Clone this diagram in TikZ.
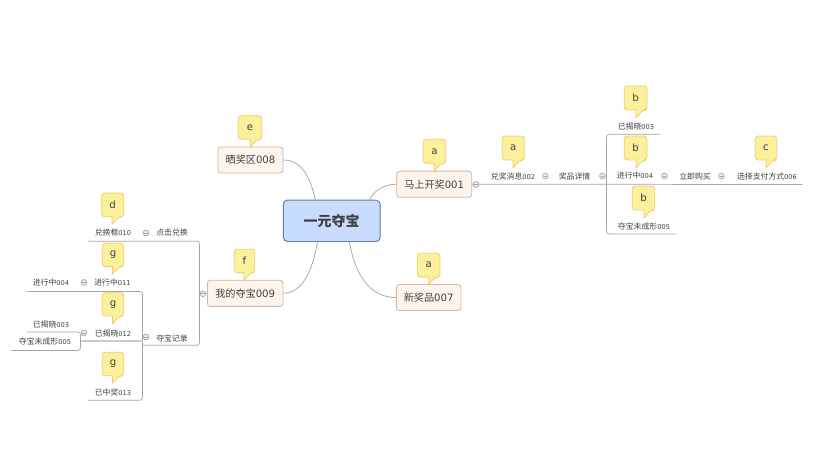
\documentclass[tikz,border=0pt]{standalone}
\usepackage{fontspec}
\setmainfont{DejaVu Sans}
\newfontfamily\cjk{Noto Sans CJK SC}
\definecolor{txt}{HTML}{404040}
\definecolor{ln}{HTML}{A6A6A6}
\definecolor{topicfill}{HTML}{FFF4EC}
\definecolor{topicline}{HTML}{C6BBAE}
\definecolor{rootfill}{HTML}{C9DCFF}
\definecolor{rootline}{HTML}{5F7BA8}
\definecolor{notefill}{HTML}{FBF09C}
\definecolor{noteline}{HTML}{F4CB6C}
\pgfdeclarelayer{bg}
\pgfsetlayers{bg,main}
\newcommand\cn[1]{{\cjk #1}}
\newcommand\lab[2]{\cn{#1}{\fontsize{5pt}{6pt}\selectfont #2}}
\newcommand\notebox[8]{%
  \fill[notefill,draw=noteline,line width=0.6pt,line join=round]
    [rounded corners=2.2pt] (#6,#5) -- (#2,#5) -- (#2,#3) -- (#4,#3) -- (#4,#5) -- (#6+7,#5)
    [sharp corners] -- (#6,#7) -- cycle;
  \node[notetxt] (#1) at ({(#2+#4)/2},{(#3+#5)/2}) {#8};}
\tikzset{
  x=0.75pt,y=-0.75pt,
  small/.style={inner sep=0pt,text=txt,font=\fontsize{5.9pt}{7pt}\selectfont},
  notetxt/.style={inner sep=0pt,text=txt,font=\fontsize{7.6pt}{9pt}\selectfont},
  topic/.style={draw=topicline,fill=topicfill,line width=0.6pt,rounded corners=2.2pt,inner sep=0pt,text=txt,font=\fontsize{7.6pt}{9pt}\selectfont,minimum height=19.6pt},
  roottopic/.style={draw=rootline,fill=rootfill,line width=0.7pt,rounded corners=3pt,inner sep=0pt,text=txt,font=\fontsize{10.5pt}{12pt}\selectfont\bfseries,minimum width=72.5pt,minimum height=31pt},
  fold/.style={circle,draw=ln,fill=black!8,line width=0.5pt,minimum size=4.4pt,inner sep=0pt},
  link/.style={draw=ln,line width=0.55pt},
  tree/.style={draw=ln,line width=0.55pt,rounded corners=2.2pt},
}
\begin{document}
\begin{tikzpicture}
\useasboundingbox (0,0) rectangle (839,467);
\begin{pgfonlayer}{bg}\fill[white] (0,0) rectangle (839,467);\end{pgfonlayer}
% main topics
\node[roottopic] (root) at (331.7,220.8) {\cjk\bfseries 一元夺宝};
\node[topic,minimum width=56.2pt] (kai) at (434.2,184.2) {\cn{马上开奖}001};
\node[topic,minimum width=48.7pt] (shai) at (250.5,160) {\cn{晒奖区}008};
\node[topic,minimum width=48.5pt] (xin) at (428.7,297.5) {\cn{新奖品}007};
\node[topic,minimum width=56.7pt] (wo) at (245.2,293.3) {\cn{我的夺宝}009};
% right branch labels
\node[small] (t002) at (513,176) {\lab{兑奖消息}{002}};
\node[small] (prize) at (574.5,176) {\cn{奖品详情}};
\node[small] (t003) at (636,126.5) {\lab{已揭晓}{003}};
\node[small] (t004) at (635,176) {\lab{进行中}{004}};
\node[small] (t005) at (644,226.5) {\lab{夺宝未成形}{005}};
\node[small] (buy) at (695,176) {\cn{立即购买}};
\node[small] (t006) at (767,176) {\lab{选择支付方式}{006}};
% left branch labels
\node[small] (click) at (172,233) {\cn{点击兑换}};
\node[small] (t010) at (113,233) {\lab{兑换框}{010}};
\node[small] (rec) at (172,338) {\cn{夺宝记录}};
\node[small] (t011) at (112.5,283) {\lab{进行中}{011}};
\node[small] (l004) at (51,283) {\lab{进行中}{004}};
\node[small] (t012) at (113,333.5) {\lab{已揭晓}{012}};
\node[small] (l003) at (51,324.5) {\lab{已揭晓}{003}};
\node[small] (l005) at (45,342) {\lab{夺宝未成形}{005}};
\node[small] (t013) at (113,392) {\lab{已中奖}{013}};
% fold markers
\node[fold] (f1) at (476,184.5) {};
\node[fold] (f2) at (545.5,176) {};
\node[fold] (f3) at (602.5,176) {};
\node[fold] (f4) at (664.5,176) {};
\node[fold] (f5) at (721.5,176) {};
\node[fold] (f6) at (203,293.7) {};
\node[fold] (f7) at (146,233) {};
\node[fold] (f8) at (146,337) {};
\node[fold] (f9) at (84,282.5) {};
\node[fold] (f10) at (84,333) {};
\foreach \f in {f1,f2,f3,f4,f5,f6,f7,f8,f9,f10}
  \draw[ln,line width=0.4pt] ([xshift=-1.2pt]\f.center) -- ([xshift=1.2pt]\f.center);
% free ends
\coordinate (rEnd) at (802,184.5);
\coordinate (rA) at (606.5,134.3);
\coordinate (rAe) at (660,134.3);
\coordinate (rB) at (606.5,234);
\coordinate (rBe) at (676,234);
\coordinate (lTop) at (88,241.3);
\coordinate (lA) at (199.5,241.3);
\coordinate (lB) at (199.5,345.3);
\coordinate (lBe) at (142.5,345.3);
\coordinate (mA) at (142.5,291.5);
\coordinate (mAe) at (27,291.5);
\coordinate (mB) at (142.5,400.3);
\coordinate (mBe) at (88,400.3);
\coordinate (mC) at (80.5,341);
\coordinate (sA) at (80.5,332);
\coordinate (sAe) at (27,332);
\coordinate (sB) at (80.5,350.5);
\coordinate (sBe) at (11,350.5);
\coordinate (fMid) at (199.5,293.7);
\begin{pgfonlayer}{bg}
\draw[link] (root.128.3) .. controls (311,180) and (303,160) .. (shai.east);
\draw[link] (root.29.8) .. controls (374,190) and (385,184.3) .. (kai.west);
\draw[link] (root.-50.5) .. controls (355,275) and (370,297.5) .. (xin.west);
\draw[link] (root.-124) .. controls (312,275) and (300,293.3) .. (wo.east);
\draw[link] (kai.east) -- (rEnd);
\draw[tree] (rAe) -- (rA) -- (rB) -- (rBe);
\draw[link] (wo.west) -- (fMid);
\draw[tree] (lTop) -- (lA) -- (lB) -- (lBe);
\draw[tree] (mAe) -- (mA) -- (mB) -- (mBe);
\draw[draw=black!20,line width=1pt] (lBe |- mC) -- (mC);
\draw[tree] (sAe) -- (sA) -- (sB) -- (sBe);
\end{pgfonlayer}
% notes
\notebox{na1}{423.3}{139.3}{445.7}{163.3}{434.3}{171}{a}
\notebox{ne}{238.3}{115.7}{261.7}{139.3}{250.3}{147}{e}
\notebox{na3}{417.3}{253.3}{440}{277}{428.7}{284}{a}
\notebox{nf}{234.3}{249.3}{254.7}{272.6}{244}{280}{f}
\notebox{nd}{101.7}{193}{123.7}{216.7}{112}{224}{d}
\notebox{ng1}{102.3}{243.3}{123.7}{266.6}{112.5}{274}{g}
\notebox{ng2}{102.3}{292.7}{123.7}{316}{112.5}{324}{g}
\notebox{ng3}{102.3}{352.3}{123.7}{375.7}{112.5}{383}{g}
\notebox{nb1}{624.3}{86}{647}{110}{636}{118}{b}
\notebox{na2}{502.3}{136}{524.3}{160}{513}{168}{a}
\notebox{nb2}{624.3}{136}{647}{160}{636}{168}{b}
\notebox{nc}{755.3}{136}{776.7}{160}{766}{168}{c}
\notebox{nb3}{632.3}{186}{654.7}{210}{644}{218}{b}
\end{tikzpicture}
\end{document}
